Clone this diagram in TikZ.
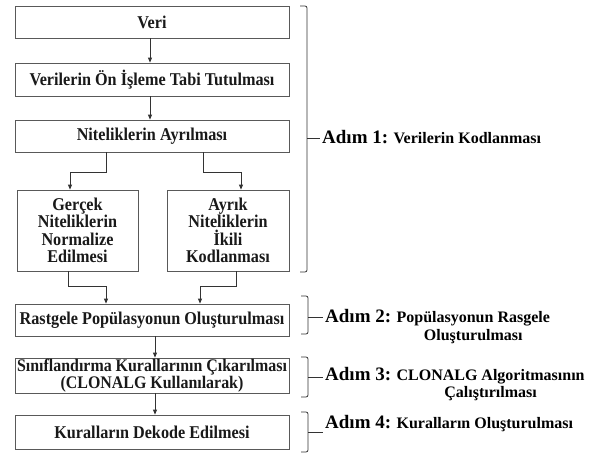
\documentclass[tikz,border=0pt]{standalone}
\usepackage{fontspec}
\setmainfont{Liberation Serif}
\newfontfamily\condfont{Liberation Serif}[FakeStretch=0.9]
\usetikzlibrary{arrows.meta}
\begin{document}
\begin{tikzpicture}[x=1pt,y=-1pt,
  box/.style={draw=black!65, line width=0.8pt, minimum width=274pt, inner sep=0pt,
    font=\condfont\fontsize{18}{17.5}\selectfont\bfseries, text=black!90, align=center},
  sbox/.style={box, minimum width=121pt, minimum height=81pt},
  arr/.style={draw=black!80, line width=0.8pt, -{Triangle[length=5pt,width=4pt]}},
  brc/.style={draw=black!80, line width=0.8pt, rounded corners=2pt},
  adim/.style={anchor=base west, inner sep=0pt, font=\fontsize{19}{20}\selectfont\bfseries},
  desc/.style={anchor=base west, inner sep=0pt, font=\fontsize{16}{18}\selectfont\bfseries}]
\useasboundingbox (0,0) rectangle (591,455);

\node[box, minimum height=32pt] (veri) at (152,22) {Veri};
\node[box, minimum height=33pt] (onis) at (152,79.5) {Verilerin Ön İşleme Tabi Tutulması};
\node[box, minimum height=32pt] (ayr) at (152,136) {Niteliklerin Ayrılması};
\node[sbox] (ger) at (77.5,230.5) {Gerçek\\Niteliklerin\\Normalize\\Edilmesi};
\node[sbox, minimum width=122pt] (ayk) at (228,230.5) {Ayrık\\Niteliklerin\\İkili\\Kodlanması};
\node[box, minimum height=32pt] (ras) at (152,320) {Rastgele Popülasyonun Oluşturulması};
\node[box, minimum height=35pt, font=\condfont\fontsize{17.7}{12.5}\selectfont\bfseries] (sin) at (152,375.5) {Sınıflandırma Kurallarının Çıkarılması\\(CLONALG Kullanılarak)};
\node[box, minimum height=34pt] (kur) at (152,432) {Kuralların Dekode Edilmesi};

\draw[arr] ([xshift=-2pt]veri.south) -- ([xshift=-2pt]onis.north);
\draw[arr] ([xshift=-2pt]onis.south) -- ([xshift=-2pt]ayr.north);
\draw[arr] ([xshift=-46pt]ayr.south) -- ++(0,20) -| ([xshift=-7.5pt]ger.north);
\draw[arr] ([xshift=51pt]ayr.south) -- ++(0,20) -| ([xshift=13pt]ayk.north);
\draw[arr] ([xshift=-9.5pt]ger.south) -- ++(0,15) -| ([xshift=-46pt]ras.north);
\draw[arr] ([xshift=8pt]ayk.south) -- ++(0,15) -| ([xshift=48pt]ras.north);
\draw[arr] ([xshift=3pt]ras.south) -- ([xshift=3pt]sin.north);
\draw[arr] ([xshift=3pt]sin.south) -- ([xshift=3pt]kur.north);

% braces
\coordinate (b1) at (320,138);
\draw[brc] (300,6) -- (307,6) -- (307,272) -- (300,272);
\draw[draw=black!80, line width=0.8pt] (307,138) -- (b1);
\coordinate (b2) at (323,317);
\draw[brc] (301,296) -- (308,296) -- (308,334) -- (301,334);
\draw[draw=black!80, line width=0.8pt] (308,317) -- (b2);
\coordinate (b3) at (323,377);
\draw[brc] (301,357) -- (308,357) -- (308,397) -- (301,397);
\draw[draw=black!80, line width=0.8pt] (308,377) -- (b3);
\coordinate (b4) at (323,432);
\draw[brc] (301,412) -- (308,412) -- (308,452) -- (301,452);
\draw[draw=black!80, line width=0.8pt] (308,432) -- (b4);

\node[adim] (a1) at (322,143) {Adım 1:};
\node[desc] (d1) at ([xshift=5pt]a1.base east) {Verilerin Kodlanması};
\node[adim] (a2) at (325,322) {Adım 2:};
\node[desc] (d2) at ([xshift=5pt]a2.base east) {\begin{tabular}[t]{@{}c@{}}Popülasyonun Rasgele\\Oluşturulması\end{tabular}};
\node[adim] (a3) at (325,380) {Adım 3:};
\node[desc] (d3) at ([xshift=5pt]a3.base east) {\begin{tabular}[t]{@{}c@{}}CLONALG Algoritmasının\\[-1pt]Çalıştırılması\end{tabular}};
\node[adim] (a4) at (325,428) {Adım 4:};
\node[desc] (d4) at ([xshift=5pt]a4.base east) {Kuralların Oluşturulması};
\end{tikzpicture}
\end{document}
